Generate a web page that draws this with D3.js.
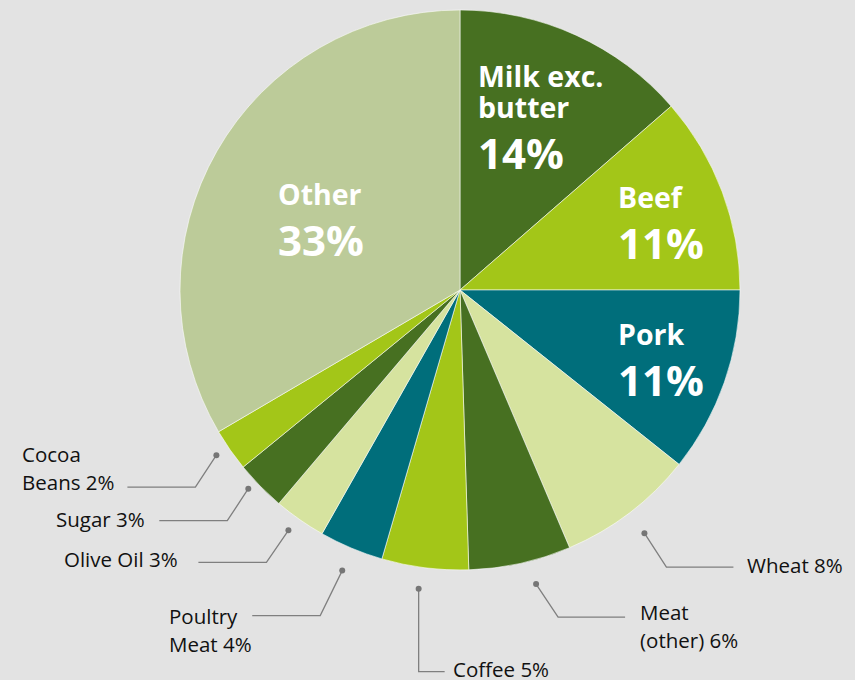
<!DOCTYPE html>
<html>
<head>
<meta charset="utf-8">
<script src="https://cdn.jsdelivr.net/npm/d3@7"></script>
<style>
  html, body { margin: 0; padding: 0; background: #e3e3e3; }
  svg { display: block; }
  text { font-family: "Open Sans", "Noto Sans", sans-serif; }
</style>
</head>
<body>
<svg id="chart" width="855" height="680"></svg>
<script>
// Share of value by product (per cent)
const categories = ["Milk exc. butter", "Beef", "Pork", "Wheat", "Meat (other)", "Coffee",
                    "Poultry Meat", "Olive Oil", "Sugar", "Cocoa Beans", "Other"];
const shares = [13.6, 11.4, 10.7, 7.9, 5.9, 5.0, 3.7, 3.0, 2.9, 2.45, 33.45];
const sliceColors = ["#477021", "#a3c618", "#006e7b", "#d6e39f", "#477021", "#a3c618",
                     "#006e7b", "#d6e39f", "#477021", "#a3c618", "#bccb99"];

// Labels drawn inside the slice (name lines, then the share)
const insideLabels = {
  "Milk exc. butter": { lines: ["Milk exc.", "butter"], x: 478, y: 87 },
  "Beef":             { lines: ["Beef"], x: 618, y: 208 },
  "Pork":             { lines: ["Pork"], x: 618, y: 345 },
  "Other":            { lines: ["Other"], x: 278, y: 205 }
};

// Labels drawn outside with a leader line: nudge of the dot from the slice's
// mid-angle point, elbow offset from the dot, horizontal run, text block position
const outsideLabels = {
  "Wheat":        { lines: ["Wheat 8%"], ndx: 4, ndy: 6, ex: 22, ey: 34, run: 67, tx: 747, ty: 573 },
  "Meat (other)": { lines: ["Meat", "(other) 6%"], ndx: 12, ndy: 3, ex: 22, ey: 33, run: 67, tx: 640, ty: 620 },
  "Coffee":       { lines: ["Coffee 5%"], ndx: -4, ndy: 3, ex: 0, ey: 83, run: 26, tx: 453, ty: 677 },
  "Poultry Meat": { lines: ["Poultry", "Meat 4%"], ndx: -2, ndy: 6, ex: -22, ey: 45, run: -68, tx: 169, ty: 624 },
  "Olive Oil":    { lines: ["Olive Oil 3%"], ndx: -1, ndy: -4, ex: -22, ey: 32, run: -68, tx: 64, ty: 567 },
  "Sugar":        { lines: ["Sugar 3%"], ndx: 1, ndy: -10, ex: -21, ey: 32, run: -68, tx: 56, ty: 527 },
  "Cocoa Beans":  { lines: ["Cocoa", "Beans 2%"], ndx: 1, ndy: -5, ex: -21, ey: 32, run: -68, tx: 22, ty: 462 }
};

const cx = 460, cy = 290, radius = 280;
const svg = d3.select("#chart");
const g = svg.append("g").attr("transform", `translate(${cx},${cy})`);

const data = categories.map((c, i) => ({ name: c, value: shares[i], color: sliceColors[i] }));
const pie = d3.pie().value(d => d.value).sort(null);
const arcs = pie(data);
const arc = d3.arc().innerRadius(0).outerRadius(radius);
const dotArc = d3.arc().innerRadius(298).outerRadius(298);
const fmt = v => Math.round(v) + "%";

g.selectAll("path.slice")
  .data(arcs)
  .join("path")
  .attr("class", "slice")
  .attr("d", arc)
  .attr("fill", d => d.data.color)
  .attr("stroke", "#ffffff")
  .attr("stroke-width", 0.7)
  .attr("stroke-opacity", 0.8);

// Inside labels
arcs.forEach(a => {
  const lab = insideLabels[a.data.name];
  if (!lab) return;
  const t = svg.append("g");
  lab.lines.forEach((ln, i) => {
    t.append("text")
      .attr("x", lab.x).attr("y", lab.y + i * 31)
      .attr("fill", "#ffffff")
      .attr("font-size", 28.5).attr("font-weight", 700)
      .text(ln);
  });
  t.append("text")
    .attr("x", lab.x).attr("y", lab.y + (lab.lines.length - 1) * 31 + 51)
    .attr("fill", "#ffffff")
    .attr("font-size", 42).attr("font-weight", 700)
    .text(fmt(a.data.value));
});

// Outside labels with leader lines
arcs.forEach(a => {
  const lab = outsideLabels[a.data.name];
  if (!lab) return;
  const [dx, dy] = dotArc.centroid(a);
  const p0 = [cx + dx + lab.ndx, cy + dy + lab.ndy];
  const p1 = [p0[0] + lab.ex, p0[1] + lab.ey];
  const p2 = [p1[0] + lab.run, p1[1]];
  svg.append("path")
    .attr("d", d3.line()([p0, p1, p2]))
    .attr("fill", "none")
    .attr("stroke", "#7f7f7f")
    .attr("stroke-width", 1.3);
  svg.append("circle")
    .attr("cx", p0[0]).attr("cy", p0[1]).attr("r", 3)
    .attr("fill", "#767676");
  lab.lines.forEach((ln, i) => {
    svg.append("text")
      .attr("x", lab.tx).attr("y", lab.ty + i * 28)
      .attr("fill", "#111111")
      .attr("font-size", 20.5)
      .text(ln);
  });
});
</script>
</body>
</html>
